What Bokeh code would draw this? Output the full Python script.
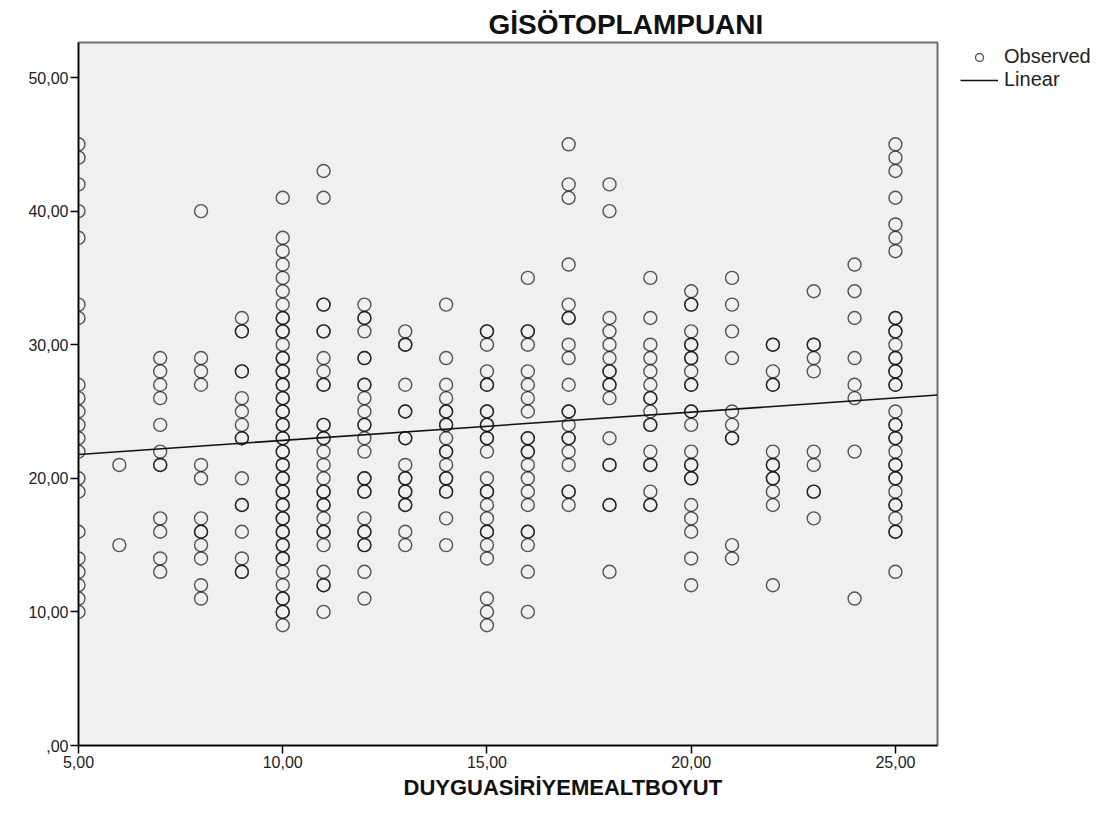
import numpy as np
from bokeh.plotting import figure
from bokeh.layouts import row
from bokeh.models import (Range1d, FixedTicker, CustomJSTickFormatter, Legend,
                          LegendItem, Title)
from bokeh.embed import file_html
from bokeh.resources import INLINE

# ---- data: GİSÖTOPLAMPUANI observed per DUYGUASİRİYEMEALTBOYUT value ----
x_levels = [5, 6, 7, 8, 9, 10, 11, 12, 13, 14, 15, 16, 17, 18, 19, 20, 21, 22, 23, 24, 25]
c05 = [45, 44, 42, 40, 38, 33, 32, 27, 26, 25, 24, 23, 22, 20, 19, 16, 14, 13, 12, 11, 10]
c06 = [21, 15]
c07 = [29, 28, 27, 26, 24, 22, 21, 21, 17, 16, 14, 13]
c08 = [40, 29, 28, 27, 21, 20, 17, 16, 16, 15, 14, 12, 11]
c09 = [32, 31, 31, 28, 28, 26, 25, 24, 23, 23, 20, 18, 18, 16, 14, 13, 13]
c10 = [41, 38, 37, 36, 35, 34, 33, 32, 32, 31, 31, 30, 29, 29, 28, 28, 27, 27, 26, 26,
       25, 25, 24, 24, 23, 23, 22, 22, 21, 21, 20, 20, 19, 19, 18, 18, 17, 17, 16, 16,
       15, 15, 14, 14, 13, 12, 11, 11, 10, 10, 9]
c11 = [43, 41, 33, 33, 31, 31, 29, 28, 27, 27, 24, 24, 23, 23, 22, 21, 20, 19, 19, 18,
       18, 17, 16, 16, 15, 13, 12, 12, 10]
c12 = [33, 32, 32, 31, 29, 29, 27, 27, 26, 25, 24, 24, 23, 22, 20, 20, 19, 19, 17, 16,
       16, 15, 15, 13, 11]
c13 = [31, 30, 30, 27, 25, 25, 23, 23, 21, 20, 20, 19, 19, 18, 18, 16, 15]
c14 = [33, 29, 27, 26, 25, 25, 24, 24, 23, 22, 22, 21, 20, 20, 19, 19, 17, 15]
c15 = [31, 31, 30, 28, 27, 27, 25, 25, 24, 24, 23, 23, 22, 20, 19, 19, 18, 17, 16, 16,
       15, 14, 11, 10, 9]
c16 = [35, 31, 31, 30, 28, 27, 26, 25, 23, 23, 22, 22, 21, 20, 19, 18, 16, 16, 15, 13, 10]
c17 = [45, 42, 41, 36, 33, 32, 32, 30, 29, 27, 25, 25, 24, 23, 23, 22, 21, 19, 19, 18]
c18 = [42, 40, 32, 31, 30, 29, 28, 28, 27, 27, 26, 23, 21, 21, 18, 18, 13]
c19 = [35, 32, 30, 29, 28, 27, 26, 26, 25, 24, 24, 22, 21, 21, 19, 18, 18]
c20 = [34, 33, 33, 31, 30, 30, 29, 29, 28, 27, 27, 25, 25, 24, 22, 21, 21, 20, 20, 18,
       17, 16, 14, 12]
c21 = [35, 33, 31, 29, 25, 24, 23, 23, 15, 14]
c22 = [30, 30, 28, 27, 27, 22, 21, 21, 20, 20, 19, 18, 12]
c23 = [34, 30, 30, 29, 28, 22, 21, 19, 19, 17]
c24 = [36, 34, 32, 29, 27, 26, 22, 11]
c25 = [45, 44, 43, 41, 39, 38, 37, 32, 32, 31, 31, 30, 29, 29, 28, 28, 27, 27, 25, 24,
       24, 23, 23, 22, 21, 21, 20, 20, 19, 18, 18, 17, 16, 16, 13]

columns = [c05, c06, c07, c08, c09, c10, c11, c12, c13, c14, c15, c16, c17, c18, c19,
           c20, c21, c22, c23, c24, c25]

y_ticks = [0, 10, 20, 30, 40, 50]
x_ticks = [5, 10, 15, 20, 25]
legend_labels = ["Observed", "Linear"]

xs, ys = [], []
for xv, col in zip(x_levels, columns):
    xs.extend([xv] * len(col))
    ys.extend(col)
xs = np.array(xs, dtype=float)
ys = np.array(ys, dtype=float)

# linear fit computed from the observed data
slope, intercept = np.polyfit(xs, ys, 1)
x_lo, x_hi = 5.0, 26.03
line_x = [x_lo, x_hi]
line_y = [intercept + slope * x_lo, intercept + slope * x_hi]

FONT = "Liberation Sans"
MARK = dict(marker="circle", size=13, fill_color=None, line_color="#111111",
            line_width=1.4, line_alpha=0.7)
LINE = dict(line_color="#111111", line_width=1.6)

p = figure(width=939, height=829, output_backend="svg", toolbar_location=None,
           x_range=Range1d(x_lo, x_hi), y_range=Range1d(0, 52.62),
           min_border_left=78, min_border_right=2, min_border_top=42,
           min_border_bottom=84, title=None)
p.background_fill_color = "#f0f0f0"
p.border_fill_color = "white"
p.outline_line_color = "#707070"
p.outline_line_width = 2
p.xgrid.visible = False
p.ygrid.visible = False

r_obs = p.scatter(xs, ys, **MARK)
r_lin = p.line(line_x, line_y, **LINE)

fmt = CustomJSTickFormatter(code="""
    if (tick == 0) { return ",00"; }
    return tick.toFixed(2).replace(".", ",");
""")

for ax in (p.xaxis[0], p.yaxis[0]):
    ax.formatter = fmt
    ax.major_tick_out = 8
    ax.major_tick_in = 0
    ax.minor_tick_out = 0
    ax.minor_tick_in = 0
    ax.axis_line_color = "black"
    ax.axis_line_width = 1.5
    ax.major_tick_line_color = "black"
    ax.major_tick_line_width = 1.5
    ax.major_label_text_font = FONT
    ax.major_label_text_font_size = "16px"
    ax.major_label_text_color = "#222222"

p.xaxis[0].ticker = FixedTicker(ticks=x_ticks)
p.yaxis[0].ticker = FixedTicker(ticks=y_ticks)
p.yaxis[0].major_label_standoff = 2
p.xaxis[0].major_label_standoff = 2

p.add_layout(Title(text="GİSÖTOPLAMPUANI", align="left", offset=410,
                   text_font=FONT, text_font_style="bold", text_font_size="28px",
                   text_color="#111111", standoff=6), "above")

p.add_layout(Title(text="DUYGUASİRİYEMEALTBOYUT", align="left", offset=325,
                   text_font=FONT, text_font_style="bold", text_font_size="22px",
                   text_color="#111111", standoff=4), "below")

# ---- legend area to the right of the plot frame ----
# the same series are drawn here, out of this panel's view, only to supply legend glyphs
lg = figure(width=170, height=829, output_backend="svg", toolbar_location=None,
            x_range=Range1d(-2, -1), y_range=Range1d(-2, -1), title=None,
            x_axis_location=None, y_axis_location=None,
            min_border_left=18, min_border_right=0, min_border_top=42,
            min_border_bottom=84)
lg.outline_line_color = None
lg.xgrid.visible = False
lg.ygrid.visible = False
lg.background_fill_color = "white"
lg.border_fill_color = "white"
l_obs = lg.scatter(xs, ys, **MARK)
l_lin = lg.line(line_x, line_y, **LINE)

legend = Legend(items=[LegendItem(label=legend_labels[0], renderers=[l_obs]),
                       LegendItem(label=legend_labels[1], renderers=[l_lin])],
                location="top_left", padding=0, margin=3, spacing=0,
                glyph_width=38, glyph_height=20, label_height=20,
                label_standoff=6, label_text_font=FONT,
                label_text_font_size="20px", label_text_color="#222222",
                border_line_alpha=0, background_fill_alpha=0)
lg.add_layout(legend)

layout = row(p, lg, spacing=0)
open("out.html", "w").write(file_html(layout, INLINE))
